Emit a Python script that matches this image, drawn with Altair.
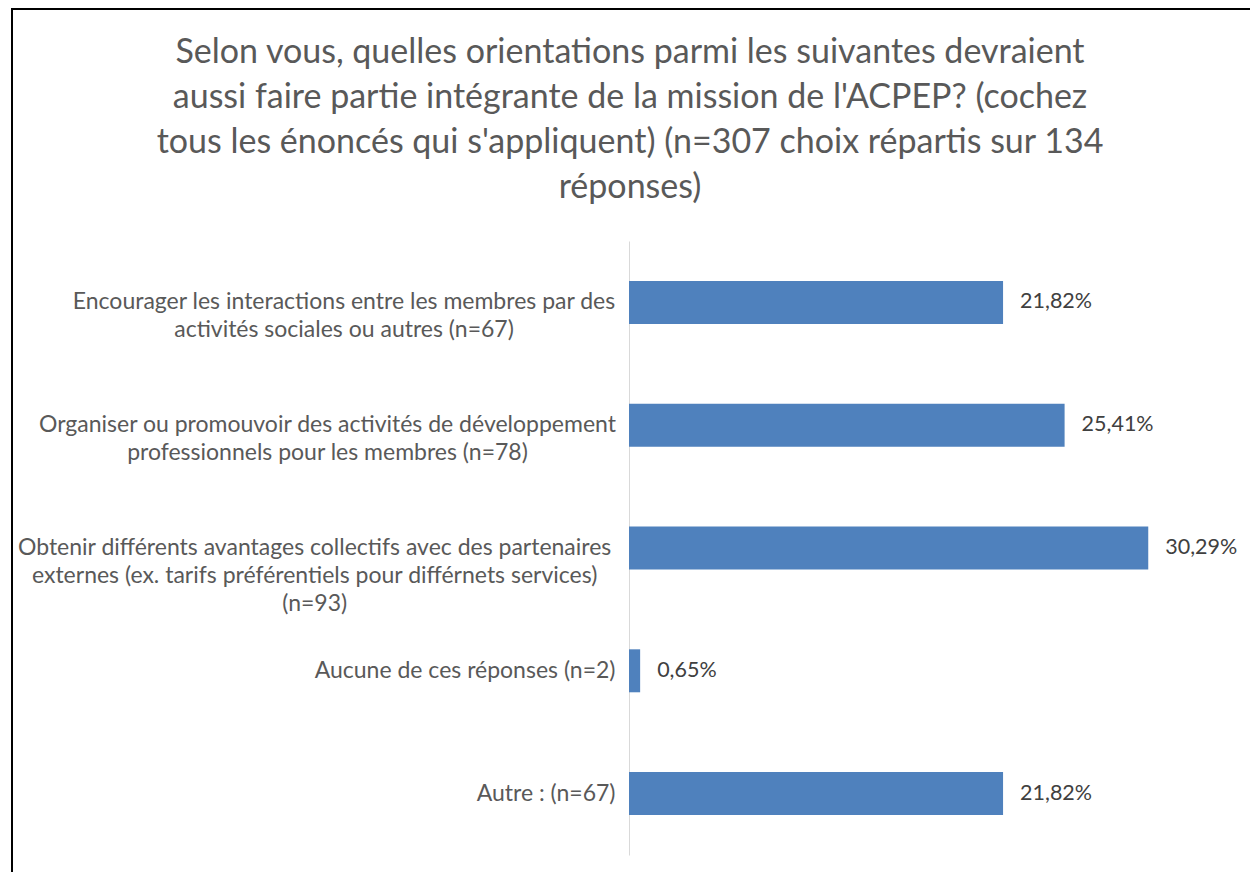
import altair as alt
import pandas as pd

categories = [
    "Encourager les interactions entre les membres par des\nactivités sociales ou autres (n=67)",
    "Organiser ou promouvoir des activités de développement\nprofessionnels pour les membres (n=78)",
    "Obtenir différents avantages collectifs avec des partenaires\nexternes (ex. tarifs préférentiels pour différnets services)\n(n=93)",
    "Aucune de ces réponses (n=2)",
    "Autre : (n=67)",
]
values = [21.82, 25.41, 30.29, 0.65, 21.82]
value_labels = ["21,82%", "25,41%", "30,29%", "0,65%", "21,82%"]
title_lines = [
    "Selon vous, quelles orientations parmi les suivantes devraient",
    "aussi faire partie intégrante de la mission de l'ACPEP? (cochez",
    "tous les énoncés qui s'appliquent) (n=307 choix répartis sur 134",
    "réponses)",
]

df = pd.DataFrame({"cat": categories, "value": values, "lbl": value_labels})

FONT = "Lato"

# Multi-line labels are centred line by line; the block's half width is
# estimated from its characters (narrow glyphs counted apart).
multi = "indexof(datum.value, '\\n') >= 0"


def line_width(i):
    s = f"(split(datum.value, '\\n')[{i}] || '')"
    narrow = f"length(replace({s}, regexp('[^iltfjr ().,:]', 'g'), ''))"
    return f"(13.86 * length({s}) - 9.58 * {narrow})"


max_w = "max(" + ", ".join(line_width(i) for i in range(3)) + ")"
pad_expr = f"{multi} ? 14 + {max_w} / 2 : 14"

y_enc = alt.Y(
    "cat:N",
    sort=categories,
    scale=alt.Scale(paddingInner=0.65, paddingOuter=0.325),
    axis=alt.Axis(
        title=None,
        labelExpr="split(datum.label, '\\n')",
        labelAlign=alt.condition(multi, alt.value("center"), alt.value("right")),
        labelBaseline="middle",
        labelFontSize=23,
        labelFont=FONT,
        labelColor="#595959",
        labelPadding={"expr": pad_expr},
        labelLineHeight=28,
        labelLimit=0,
        ticks=False,
        domainColor="#d9d9d9",
        domainWidth=1,
        grid=False,
    ),
)
x_enc = alt.X("value:Q", scale=alt.Scale(domain=[0, 35]), axis=None)

base = alt.Chart(df)
bars = base.mark_bar(color="#4f81bd").encode(x=x_enc, y=y_enc)
texts = base.mark_text(align="left", dx=17, fontSize=21.5, font=FONT, color="#404040").encode(
    x=x_enc, y=y_enc, text="lbl:N"
)

one = alt.Data(values=[{"a": 1}])

frame = alt.Chart(one).mark_rect(
    fill=None, stroke="black", strokeWidth=2
).encode(
    x=alt.value(-617), x2=alt.value(800), y=alt.value(-232), y2=alt.value(800)
)

title = alt.Chart(one).mark_text(
    text=title_lines,
    fontSize=34,
    font=FONT,
    color="#595959",
    align="center",
    baseline="alphabetic",
    lineHeight=45,
).encode(x=alt.value(1), y=alt.value(-178))

chart = alt.layer(frame, title, bars, texts).properties(
    width=600,
    height=614,
    autosize="none",
    padding={"left": 621, "top": 233, "right": 21, "bottom": 17},
).configure_view(stroke=None)

chart.save("out.html", embed_options={"renderer": "svg", "actions": False})
